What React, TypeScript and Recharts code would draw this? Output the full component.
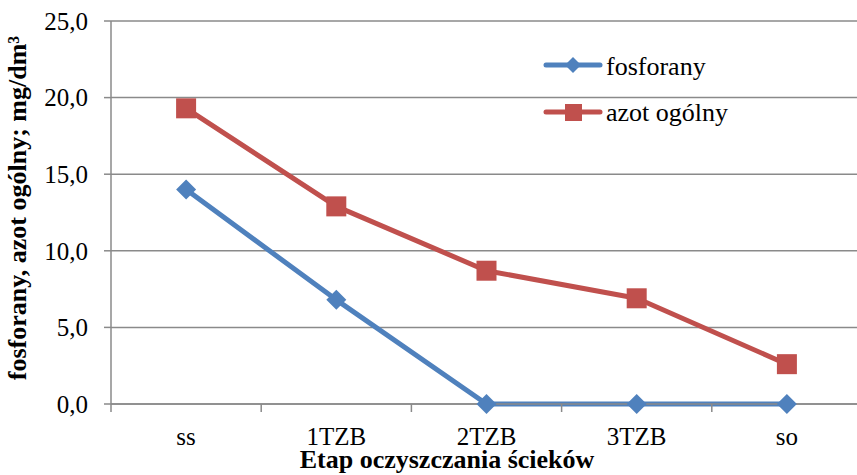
import React from "react";
import { LineChart, Line, XAxis, YAxis, CartesianGrid, Legend, Label } from "recharts";

const categories = ["ss", "1TZB", "2TZB", "3TZB", "so"];
const fosforany = [14.0, 6.8, 0.0, 0.0, 0.0];
const azotOgolny = [19.3, 12.9, 8.7, 6.9, 2.6];
const yTicks = [0, 5, 10, 15, 20, 25];

const data = categories.map((etap, i) => ({ etap, fosforany: fosforany[i], azot: azotOgolny[i] }));

const W = 870;
const H = 475;
const PLOT_LEFT = 111;
const PLOT_RIGHT = 862;
const PLOT_TOP = 21;
const PLOT_BOTTOM = 404;
const BAND = (PLOT_RIGHT - PLOT_LEFT) / categories.length;

const BLUE = "#4F81BD";
const RED = "#C0504D";
const GRID = "#8a8a8a";
const FONT = "Liberation Serif, Times New Roman, serif";

const fmt = (v: number) => v.toFixed(1).replace(".", ",");

const Diamond = (p: any) => {
  const { cx, cy, key } = p;
  const r = 10;
  return <polygon key={key} points={`${cx},${cy - r} ${cx + r},${cy} ${cx},${cy + r} ${cx - r},${cy}`} fill={BLUE} />;
};

const Square = (p: any) => {
  const { cx, cy, key } = p;
  return <rect key={key} x={cx - 10} y={cy - 10} width={20} height={20} fill={RED} />;
};

const XTick = (p: any) => {
  const { x, payload, index } = p;
  const h = BAND / 2;
  return (
    <g>
      <line x1={x - h} x2={x - h} y1={PLOT_BOTTOM} y2={PLOT_BOTTOM + 8} stroke={GRID} strokeWidth={1.5} />
      {index === categories.length - 1 && (
        <line x1={x + h} x2={x + h} y1={PLOT_BOTTOM} y2={PLOT_BOTTOM + 8} stroke={GRID} strokeWidth={1.5} />
      )}
      <text x={x} y={445} textAnchor="middle" style={{ fontFamily: FONT }} fontSize={25} fill="#000">
        {payload.value}
      </text>
    </g>
  );
};

const XTitle = () => (
  <text x={447} y={468} textAnchor="middle" style={{ fontFamily: FONT }} fontSize={26} fontWeight="bold" fill="#000">
    Etap oczyszczania ścieków
  </text>
);

const YTitle = () => (
  <text
    x={26}
    y={208}
    transform="rotate(-90 26 208)"
    textAnchor="middle"
    style={{ fontFamily: FONT }}
    fontSize={26}
    fontWeight="bold"
    fill="#000"
  >
    fosforany, azot ogólny; mg/dm³
  </text>
);

const LegendBox = () => (
  <svg width={220} height={90} style={{ display: "block", overflow: "visible" }}>
    <g style={{ fontFamily: FONT }} fontSize={26} fill="#000">
      <line x1={6} x2={60} y1={25} y2={25} stroke={BLUE} strokeWidth={5} strokeLinecap="round" />
      <polygon points="33,17 41,25 33,33 25,25" fill={BLUE} />
      <text x={66} y={35}>fosforany</text>
      <line x1={6} x2={60} y1={72} y2={72} stroke={RED} strokeWidth={5} strokeLinecap="round" />
      <rect x={25} y={64} width={17} height={17} fill={RED} />
      <text x={66} y={81}>azot ogólny</text>
    </g>
  </svg>
);

export default function App() {
  return (
    <div
      style={{
        position: "absolute",
        left: 0,
        top: 0,
        width: 857,
        height: 475,
        overflow: "hidden",
        background: "#fff",
        fontFamily: FONT,
      }}
    >
      <LineChart
        width={W}
        height={H}
        data={data}
        margin={{ top: PLOT_TOP, right: W - PLOT_RIGHT, bottom: 0, left: 0 }}
        style={{ fontFamily: FONT }}
      >
        <CartesianGrid vertical={false} stroke={GRID} strokeWidth={1.5} />
        <XAxis
          dataKey="etap"
          height={H - PLOT_BOTTOM}
          padding={{ left: BAND / 2, right: BAND / 2 }}
          axisLine={{ stroke: GRID, strokeWidth: 1.5 }}
          tickLine={false}
          tick={<XTick />}
          interval={0}
        >
          <Label content={<XTitle />} />
        </XAxis>
        <YAxis
          width={PLOT_LEFT}
          domain={[0, 25]}
          ticks={yTicks}
          tickFormatter={fmt}
          tickSize={7}
          tickMargin={16}
          axisLine={{ stroke: GRID, strokeWidth: 1.5 }}
          tickLine={{ stroke: GRID, strokeWidth: 1.5 }}
          tick={{ fontSize: 25, fill: "#000", style: { fontFamily: FONT } }}
        >
          <Label content={<YTitle />} />
        </YAxis>
        <Legend
          layout="vertical"
          align="center"
          verticalAlign="middle"
          content={<LegendBox />}
          wrapperStyle={{ left: 540, top: 40, width: 220, height: 90 }}
        />
        <Line
          type="linear"
          dataKey="fosforany"
          stroke={BLUE}
          strokeWidth={5}
          strokeLinejoin="round"
          dot={Diamond}
          activeDot={false}
          isAnimationActive={false}
        />
        <Line
          type="linear"
          dataKey="azot"
          stroke={RED}
          strokeWidth={5}
          strokeLinejoin="round"
          dot={Square}
          activeDot={false}
          isAnimationActive={false}
        />
      </LineChart>
    </div>
  );
}
